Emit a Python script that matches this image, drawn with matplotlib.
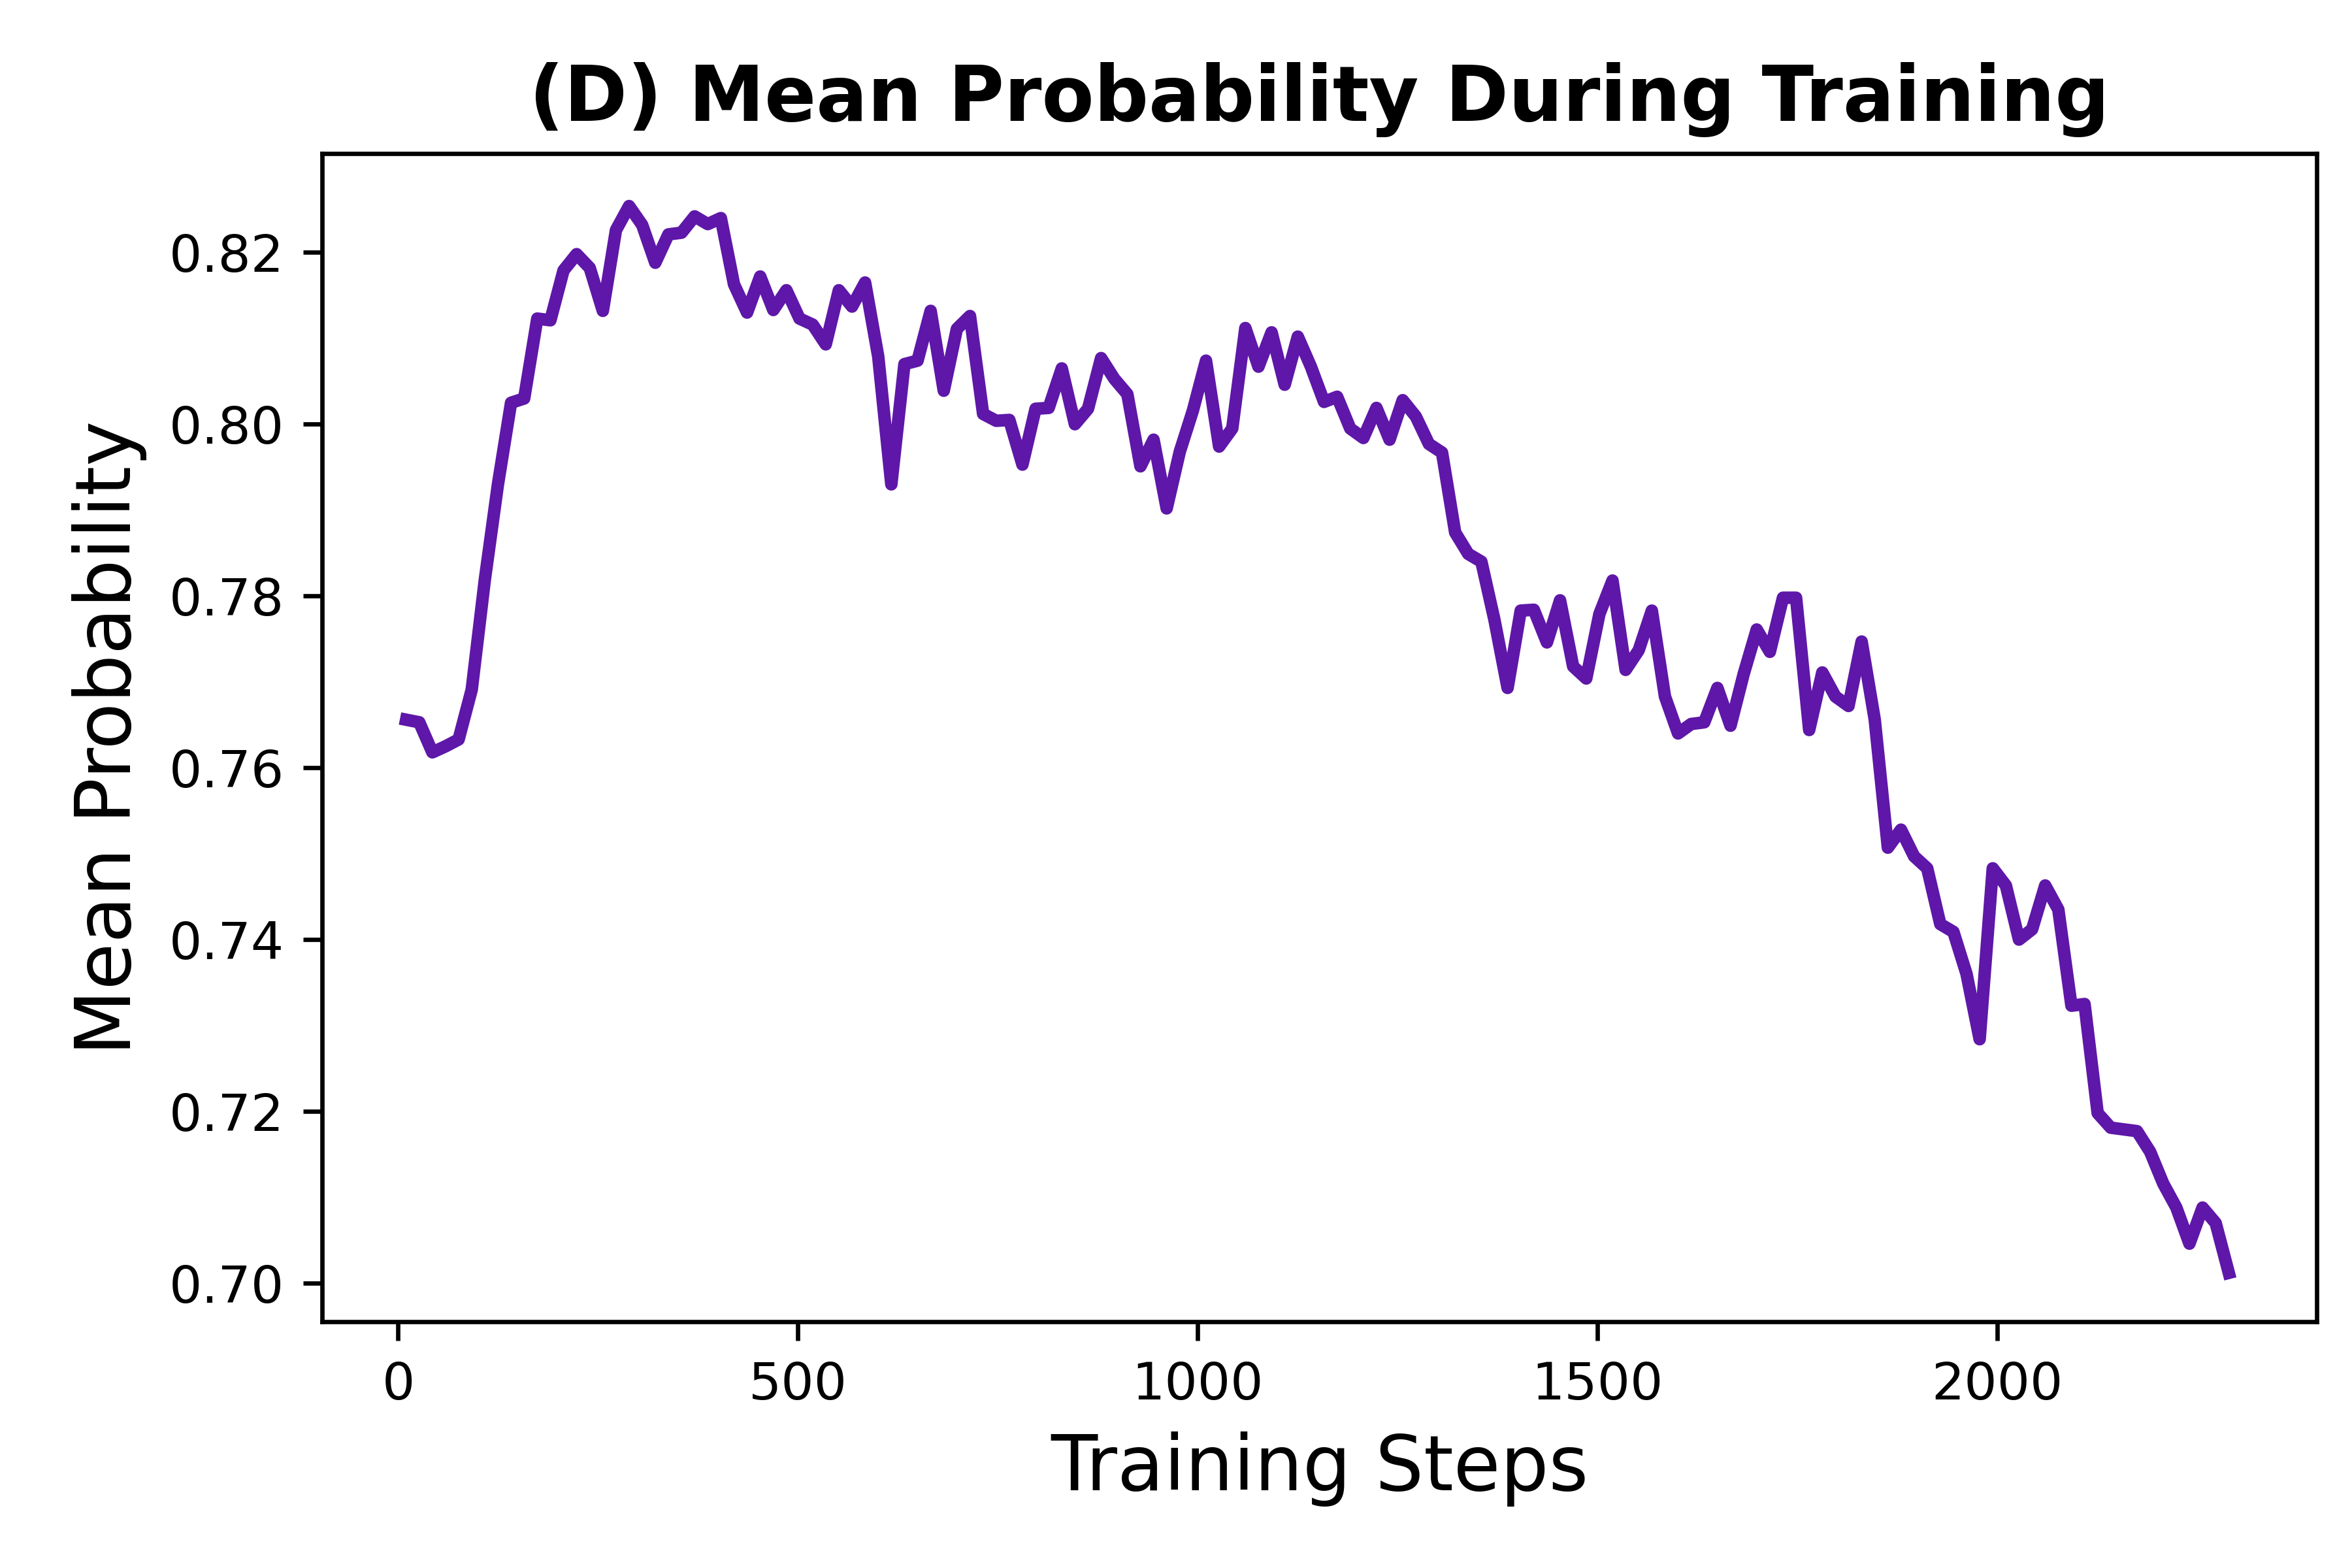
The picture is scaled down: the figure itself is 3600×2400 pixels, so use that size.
import numpy as np
import matplotlib
matplotlib.use("Agg")
import matplotlib.pyplot as plt

mean_prob = [
    0.7656, 0.7653, 0.7618, 0.7625, 0.7633, 0.7691, 0.7819, 0.7930, 0.8025, 0.8030,
    0.8123, 0.8121, 0.8179, 0.8198, 0.8182, 0.8132, 0.8226, 0.8254, 0.8232, 0.8188,
    0.8221, 0.8223, 0.8242, 0.8233, 0.8240, 0.8163, 0.8130, 0.8172, 0.8133, 0.8156,
    0.8123, 0.8116, 0.8093, 0.8156, 0.8137, 0.8165, 0.8079, 0.7930, 0.8070, 0.8074,
    0.8132, 0.8039, 0.8111, 0.8126, 0.8012, 0.8004, 0.8005, 0.7953, 0.8018, 0.8019,
    0.8065, 0.8000, 0.8018, 0.8077, 0.8053, 0.8035, 0.7951, 0.7982, 0.7902, 0.7968,
    0.8016, 0.8074, 0.7974, 0.7995, 0.8112, 0.8067, 0.8107, 0.8046, 0.8102, 0.8067,
    0.8026, 0.8032, 0.7995, 0.7984, 0.8019, 0.7982, 0.8028, 0.8009, 0.7977, 0.7967,
    0.7874, 0.7849, 0.7840, 0.7772, 0.7693, 0.7783, 0.7784, 0.7746, 0.7795, 0.7718,
    0.7704, 0.7779, 0.7818, 0.7714, 0.7737, 0.7783, 0.7683, 0.7640, 0.7651, 0.7653,
    0.7693, 0.7649, 0.7709, 0.7761, 0.7735, 0.7798, 0.7798, 0.7644, 0.7711, 0.7683,
    0.7672, 0.7747, 0.7656, 0.7507, 0.7528, 0.7497, 0.7483, 0.7418, 0.7409, 0.7360,
    0.7284, 0.7483, 0.7463, 0.7400, 0.7412, 0.7463, 0.7435, 0.7323, 0.7325, 0.7198,
    0.7181, 0.7179, 0.7177, 0.7153, 0.7116, 0.7088, 0.7046, 0.7088, 0.7070, 0.7012,
]
first_step, last_step = 10, 2290
steps = np.linspace(first_step, last_step, len(mean_prob))

fig = plt.figure(figsize=(6, 4), dpi=600)
ax = fig.add_axes([0.137, 0.157, 0.848, 0.745])
ax.plot(steps, mean_prob, color="#5E17A8", lw=2.3)
ax.set_xlim(-95, 2400)
ax.set_ylim(0.6955, 0.8315)
ax.set_yticks([0.70, 0.72, 0.74, 0.76, 0.78, 0.80, 0.82])
ax.set_xticks([0, 500, 1000, 1500, 2000])
ax.tick_params(labelsize=9.5)
ax.set_xlabel("Training Steps", fontsize=14)
ax.set_ylabel("Mean Probability", fontsize=14)
ax.set_title("(D) Mean Probability During Training", fontsize=14, fontweight="bold")
fig.savefig("out.png", dpi=600)
